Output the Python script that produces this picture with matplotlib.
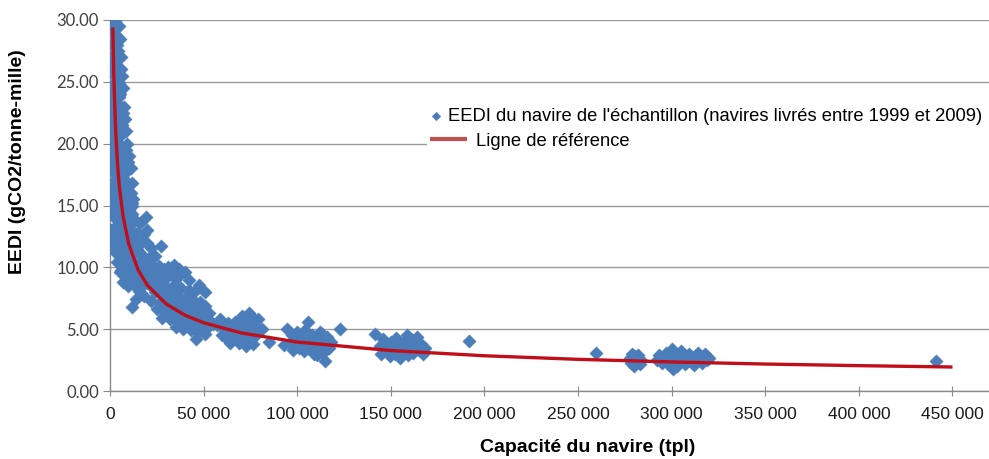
import matplotlib
matplotlib.use("Agg")
import matplotlib.pyplot as plt
from matplotlib.patches import Rectangle
import numpy as np

# ---------------- data ----------------
# small ships (spike), dwt / EEDI
small_dwt = [1500, 2200, 2800, 1200, 3500, 1800, 2500, 3200, 1000, 4000, 2000, 2900, 1400, 3600,
             4500, 800, 2300, 3100, 5000, 1600, 4200, 2700, 900, 3800, 5500, 1900, 3000, 4800,
             1200, 6000, 2400, 3500, 700, 5200, 4000, 6800, 1500, 2800, 7500, 5800, 3300, 1000,
             8000, 4500, 6500, 2000, 9000, 7000, 3800, 1300, 10000, 5500, 8500, 2500, 11500,
             1100, 2600, 3000, 1700, 4300, 2100, 3900, 600, 2600, 5200, 900, 6200, 4000, 3300,
             1300, 1800, 2300, 2700, 3400, 1500, 4600, 700, 2000, 3700, 5600, 6400, 7200, 8200,
             9400, 600, 1100, 2900, 4900, 3600, 1900,
             3000, 4500, 5500, 6500, 7000, 8000, 9000, 9500, 10500, 11000, 2500, 3500, 5000,
             6000, 7500, 8500, 1000, 1800, 2600, 4100,
             5500, 6000, 6500, 7000, 7500, 8000, 8500, 9000, 10000, 11000, 5000, 6000, 7000,
             8500, 9500, 12000, 12500, 4500, 5500, 6500]
small_eedi = [30.0, 29.8, 29.3, 29.0, 28.6, 28.2, 27.8, 27.3, 27.0, 26.8, 26.5, 26.0, 25.6, 25.3,
              25.0, 24.7, 24.4, 24.0, 23.8, 23.5, 23.2, 22.9, 22.6, 22.3, 22.1, 21.8, 21.5, 21.2,
              21.0, 20.7, 20.4, 20.1, 19.9, 19.7, 19.4, 19.2, 19.0, 18.8, 18.5, 18.3, 18.0, 17.8,
              17.6, 17.4, 17.1, 16.9, 16.8, 16.5, 16.3, 16.0, 15.8, 15.6, 15.3, 15.1, 15.0,
              28.0, 28.9, 24.8, 26.9, 21.8, 23.0, 24.5, 21.5, 19.5, 21.0, 18.5, 17.8, 28.0, 26.2,
              22.0, 29.5, 27.0, 25.8, 23.3, 24.0, 20.0, 26.0, 21.9, 18.4, 18.9, 16.4, 17.2, 15.9,
              16.2, 19.0, 20.5, 29.9, 24.9, 22.8, 17.0,
              19.0, 18.0, 19.0, 18.0, 16.0, 16.0, 15.5, 16.2, 15.0, 16.0, 22.0, 20.5, 17.5,
              16.8, 17.0, 15.0, 15.5, 14.5, 14.0, 13.8,
              28.5, 27.0, 25.5, 24.5, 23.0, 22.0, 21.0, 20.0, 19.0, 18.0, 29.5, 26.0, 22.5,
              19.5, 18.5, 16.8, 15.5, 27.5, 24.0, 21.5]

# handysize (up to ~30 000 dwt)
handy_dwt = [1500, 3000, 6000, 9000, 12000, 13500, 16000, 2000, 4500, 7500, 10500, 14500, 18000,
             19500, 1200, 3500, 6500, 8000, 11500, 15500, 20000, 22000, 2500, 5000, 9500, 13000,
             17000, 21500, 24000, 4000, 7000, 10000, 12500, 16000, 19000, 23000, 26000, 5500,
             8500, 11000, 14000, 18000, 21000, 25000, 28000, 7000, 9500, 13000, 16500, 20000,
             15500, 13900, 11700, 18000, 22400, 19200, 27200, 28800, 500, 800, 4000, 7000,
             10000, 12000, 3000, 5500, 8500, 11000, 6000, 9000, 14500, 17500, 2000, 4800, 12500,
             5000, 6500, 8000, 9500, 11000, 12500, 14000, 15500, 17000, 3000, 4500, 6000, 7500,
             9000, 10500, 12000, 13500, 15000, 16500, 18500, 20500, 22500, 6000, 8000, 10000,
             14000]
handy_eedi = [14.5, 14.8, 14.2, 14.0, 14.3, 13.8, 13.6, 13.2, 13.4, 13.0, 13.1, 12.8, 12.7,
              13.0, 12.3, 12.0, 12.4, 11.8, 12.2, 11.9, 12.0, 11.6, 11.2, 11.0, 11.3, 11.1,
              11.0, 10.8, 10.9, 10.4, 10.2, 10.5, 10.0, 10.2, 10.3, 10.0, 10.1, 9.6,
              9.5, 9.2, 9.4, 9.6, 9.3, 9.2, 9.5, 8.8, 8.5, 8.6, 8.4, 8.7,
              8.1, 7.4, 6.8, 7.7, 8.4, 14.1, 11.7, 9.9, 13.0, 12.0, 15.5, 15.0,
              14.6, 15.2, 12.6, 12.8, 12.5, 13.5, 10.8, 10.9, 11.5, 12.1, 16.5, 16.0, 9.0,
              13.0, 12.8, 12.6, 12.3, 12.0, 11.7, 11.4, 11.2, 10.6, 11.6, 11.5, 11.4, 11.2,
              10.9, 10.7, 10.4, 10.1, 9.8, 9.6, 9.9, 9.7, 9.5, 9.8, 9.9, 9.2,
              9.0]

# handymax / supramax / panamax (20 000 - 55 000 dwt)
mid_dwt = [31000, 34000, 37000, 40000, 33000, 36500, 29000, 42000, 47500, 51000, 26000, 30000,
           34000, 38000, 42000, 45000, 24000, 28000, 32000, 36000, 40000, 44000, 48000, 22000,
           26500, 31000, 35000, 39000, 43000, 47000, 50500, 53000, 25000, 29500, 33500, 37500,
           41500, 45500, 49500, 54000, 28000, 32000, 36000, 40000, 44000, 48000, 52000, 55000,
           35000, 39000, 43000, 47000, 51000, 46000, 38000, 42000, 30000, 27000, 23000, 33000,
           37000, 41000, 45000, 49000, 52500, 44000, 36000, 31500, 46500, 50000,
           34500, 38500, 42500, 46500, 32500, 36500, 40500, 44500, 48500, 30500, 34500, 38500,
           42500, 46500, 50500, 27500, 31500, 35500, 39500, 43500]
mid_eedi = [10.0, 10.2, 9.9, 9.6, 9.4, 9.2, 9.0, 9.0, 8.6, 8.0, 8.5, 8.4,
            8.6, 8.3, 8.2, 8.0, 8.0, 7.8, 7.6, 7.8, 7.5, 7.4, 7.2, 7.3,
            7.2, 7.0, 7.1, 6.9, 6.8, 6.6, 6.9, 6.3, 6.6, 6.4, 6.3, 6.5,
            6.2, 6.0, 5.9, 5.6, 5.9, 5.8, 5.7, 5.5, 5.4, 5.3, 5.1, 5.4,
            5.2, 5.0, 4.9, 4.8, 4.6, 4.2, 6.0, 7.6, 7.9, 9.7, 9.0, 7.2,
            6.8, 7.0, 6.6, 6.2, 5.8, 6.1, 6.4, 6.7, 5.6, 5.3,
            7.4, 7.2, 7.0, 6.8, 6.8, 6.6, 6.4, 6.2, 6.0, 7.4, 5.9, 5.8,
            5.6, 5.5, 5.7, 7.0, 8.0, 8.0, 7.0, 5.8]

# 55 000 - 85 000 dwt
pmax_dwt = [57000, 59000, 61000, 63000, 65000, 60000, 62500, 66000, 68000, 67000, 70000, 72000,
            74000, 76000, 71000, 73000, 75000, 77000, 78000, 72500, 69000, 74500, 70500, 64000,
            76500, 81300, 85000, 79000]
pmax_eedi = [5.3, 5.8, 5.0, 5.5, 4.8, 4.5, 4.2, 4.4, 4.9, 5.6, 5.2, 5.8,
             6.3, 6.0, 4.6, 4.2, 4.9, 5.3, 4.5, 3.6, 3.9, 5.5, 6.1, 3.9,
             3.8, 5.0, 4.0, 5.8]

# 90 000 - 125 000 dwt
cape_s_dwt = [93000, 94500, 97000, 99000, 100000, 101000, 102000, 103500, 104000, 105800, 106000,
              107000, 108000, 109000, 110000, 111000, 112000, 113000, 114000, 115000, 116000,
              117000, 118000, 98000, 103000, 110500, 113500, 100500, 123000, 96000]
cape_s_eedi = [3.75, 5.0, 4.5, 4.0, 4.8, 3.5, 4.3, 3.2, 4.9, 5.6, 4.0,
               3.6, 4.5, 3.0, 4.2, 3.4, 4.8, 3.8, 3.1, 2.4, 4.4,
               3.5, 4.0, 3.3, 3.8, 2.9, 4.6, 4.2, 5.05, 3.9]

# 140 000 - 195 000 dwt
cape_dwt = [141500, 144000, 145000, 147000, 148000, 149500, 150000, 151000, 152000, 153000,
            154000, 155000, 156000, 157000, 158000, 159000, 160000, 161000, 162000, 163000,
            164000, 165000, 166000, 167000, 168500, 146000, 158500, 192000]
cape_eedi = [4.6, 3.6, 3.0, 3.8, 3.3, 2.8, 4.0, 3.5, 3.0, 4.3,
             3.6, 2.7, 3.2, 3.9, 3.4, 2.9, 3.7, 4.2, 3.1, 3.6,
             4.4, 3.3, 3.8, 3.0, 3.5, 4.2, 4.5, 4.05]

# very large ore carriers
vloc_dwt = [259500, 277500, 278500, 279000, 280000, 281000, 282000, 283000, 283500, 280500,
            279500, 292000, 293500, 295000, 296000, 297000, 298000, 299000, 300000, 300500,
            301000, 302000, 303000, 304000, 305000, 306000, 307000, 308000, 309000, 310000,
            311000, 312000, 313000, 314000, 315000, 316000, 317000, 318000, 319000, 320000,
            298500, 302500, 306500, 311500, 441000]
vloc_eedi = [3.05, 2.7, 2.3, 3.0, 2.0, 2.6, 2.9, 2.2, 2.5, 2.8,
             2.4, 2.5, 2.9, 2.3, 2.7, 3.1, 2.2, 2.6, 3.4, 1.8,
             2.9, 2.4, 2.0, 2.8, 3.2, 2.5, 2.2, 2.8, 3.0, 2.4,
             2.7, 2.1, 2.9, 3.1, 2.5, 2.3, 2.8, 3.0, 2.5, 2.7,
             3.0, 2.0, 2.9, 2.3, 2.4]

# reference line
ref_dwt = [1500, 2000, 3000, 4000, 5000, 7000, 10000, 15000, 20000, 30000, 40000, 50000, 70000,
           100000, 150000, 200000, 250000, 300000, 350000, 400000, 450000]
ref_eedi = [29.4, 25.6, 21.1, 18.4, 16.5, 14.1, 11.9, 9.79, 8.54, 7.04, 6.13, 5.52, 4.70,
            3.96, 3.27, 2.85, 2.56, 2.35, 2.18, 2.05, 1.94]

x_ticks = [0, 50000, 100000, 150000, 200000, 250000, 300000, 350000, 400000, 450000]
x_tick_labels = ["0", "50 000", "100 000", "150 000", "200 000", "250 000", "300 000",
                 "350 000", "400 000", "450 000"]
y_ticks = [0, 5, 10, 15, 20, 25, 30]
y_tick_labels = ["0.00", "5.00", "10.00", "15.00", "20.00", "25.00", "30.00"]

scatter_label = "EEDI du navire de l'échantillon (navires livrés entre 1999 et 2009)"
line_label = "Ligne de référence"
x_title = "Capacité du navire (tpl)"
y_title = "EEDI (gCO2/tonne-mille)"

# ---------------- drawing ----------------
W, H = 989, 459
fig = plt.figure(figsize=(W / 100, H / 100), dpi=100)
L, R, T, B = 110, 989, 20, 391
ax = fig.add_axes([L / W, 1 - B / H, (R - L) / W, (B - T) / H])

all_x = np.concatenate([small_dwt, handy_dwt, mid_dwt, pmax_dwt, cape_s_dwt, cape_dwt, vloc_dwt])
all_y = np.concatenate([small_eedi, handy_eedi, mid_eedi, pmax_eedi, cape_s_eedi, cape_eedi, vloc_eedi])

blue = "#4A7DBA"
red = "#C00F1A"
sc = ax.scatter(all_x, all_y, marker="D", s=46, color=blue, edgecolors=blue, linewidths=0.3,
                zorder=3, clip_on=True)
ln, = ax.plot(ref_dwt, ref_eedi, color=red, lw=2.4, zorder=4, solid_capstyle="butt")

ax.set_xlim(0, 469500)
ax.set_ylim(0, 30)
ax.set_xticks(x_ticks)
ax.set_xticklabels(x_tick_labels, family=["Liberation Sans Narrow", "Liberation Sans"],
                   fontsize=12.5, color="#1a1a1a")
ax.set_yticks(y_ticks)
ax.set_yticklabels(y_tick_labels, family=["Lato", "DejaVu Sans"], fontsize=12, color="#404040")

ax.grid(axis="y", color="#9a9a9a", lw=1.0, zorder=0)
ax.set_axisbelow(True)
for s in ["top", "right"]:
    ax.spines[s].set_visible(False)
for s in ["left", "bottom"]:
    ax.spines[s].set_color("#8a8a8a")
    ax.spines[s].set_linewidth(1.0)
ax.tick_params(axis="x", direction="inout", length=7, color="#8a8a8a", pad=8)
ax.tick_params(axis="y", direction="out", length=5, color="#8a8a8a", pad=3)

ax.set_xlabel(x_title, family="Liberation Sans", fontweight="bold", fontsize=14)
ax.xaxis.label.set_va("center")
ax.xaxis.set_label_coords((588 - L) / (R - L), (B - 447) / (B - T))
ax.set_ylabel(y_title, family="Liberation Sans", fontweight="bold", fontsize=14)
ax.yaxis.label.set_va("center")
ax.yaxis.set_label_coords((18 - L) / (R - L), (B - 162) / (B - T))

# white legend area hiding the gridline behind it
ax.add_patch(Rectangle((427 / W, 1 - 153 / H), (W - 427) / W, 50 / H, transform=fig.transFigure,
                       facecolor="white", edgecolor="none", zorder=1))

leg_font = {"family": "Liberation Sans", "size": 13.2}
leg1 = ax.legend([sc], [scatter_label], loc="center left",
                 bbox_to_anchor=(430 / W, 1 - 116 / H), bbox_transform=fig.transFigure,
                 prop=leg_font, frameon=False, handlelength=0.5, handletextpad=0.4,
                 borderpad=0.1, borderaxespad=0, scatterpoints=1, markerscale=0.65)
ax.add_artist(leg1)
leg2 = ax.legend([ln], [line_label], loc="center left",
                 bbox_to_anchor=(428 / W, 1 - 141 / H), bbox_transform=fig.transFigure,
                 prop=leg_font, frameon=False, handlelength=2.0, handletextpad=0.5,
                 borderpad=0.1, borderaxespad=0)
leg2.get_lines()[0].set_linewidth(3)
leg2.get_lines()[0].set_color("#C0504D")

fig.savefig("out.png", dpi=100)
